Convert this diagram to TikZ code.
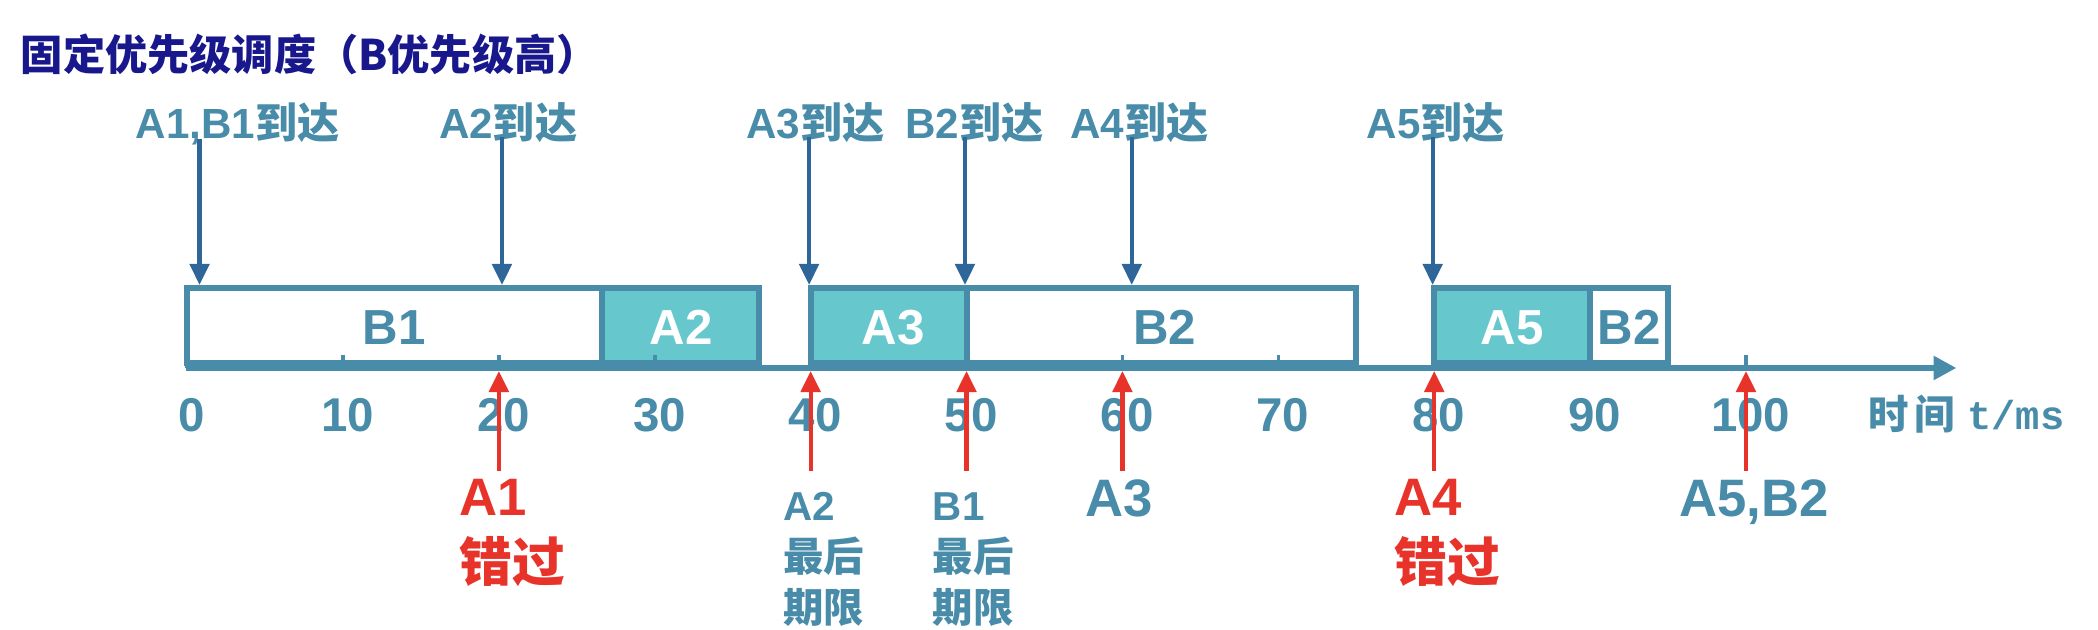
\documentclass[tikz,border=0pt]{standalone}
\usepackage{fontspec}
\setmainfont{Liberation Sans}
\newfontfamily\cjk{Noto Sans CJK SC}
\newfontfamily\mono{Liberation Mono}
\usetikzlibrary{arrows.meta}
\definecolor{lineblue}{RGB}{72,140,170}
\definecolor{arrblue}{RGB}{47,102,153}
\definecolor{taskfill}{RGB}{102,200,204}
\definecolor{missred}{RGB}{232,51,42}
\definecolor{titlenavy}{RGB}{24,24,140}
\newcommand{\zh}[1]{{\cjk #1}}

\begin{document}
\begin{tikzpicture}[x=1.559mm, y=1cm,
    every node/.style={inner sep=0pt, font=\bfseries, text=lineblue},
    taskbox/.style={draw=lineblue, line width=1.7pt},
    arrin/.style={draw=arrblue, line width=1.2pt, -{Triangle[width=5.5pt,length=6pt]}},
    missarr/.style={draw=missred, line width=1.2pt, -{Triangle[width=5.5pt,length=6pt]}},
    ticklbl/.style={anchor=base, font=\bfseries\fontsize{13.5}{16}\selectfont},
    arrlbl/.style={anchor=base, font=\bfseries\fontsize{12}{14}\selectfont},
    boxlbl/.style={anchor=base, font=\bfseries\fontsize{14}{16}\selectfont},
    bigdl/.style={align=left, font=\bfseries\fontsize{15}{18.7}\selectfont},
    smalldl/.style={align=left, font=\bfseries\fontsize{11.5}{14.5}\selectfont}]

  \useasboundingbox (-12,-2.62) rectangle (122.58,3.68);

  \node[anchor=base west, text=titlenavy, font=\bfseries\fontsize{12}{14}\selectfont] (title) at (-10.7,2.97) {\zh{固定优先级调度（B优先级高）}};

  % time line with the tasks
  \draw[taskbox, fill=white] (0,0.05) rectangle (26.6,0.8);
  \draw[taskbox, fill=taskfill] (26.6,0.05) rectangle (36.7,0.8);
  \draw[taskbox, fill=taskfill] (40,0.05) rectangle (50,0.8);
  \draw[taskbox, fill=white] (50,0.05) rectangle (75,0.8);
  \draw[taskbox, fill=taskfill] (80,0.05) rectangle (90,0.8);
  \draw[taskbox, fill=white] (90,0.05) rectangle (95,0.8);
  \draw[lineblue, line width=1.7pt, -{Triangle[width=6.5pt,length=6.5pt]}] (-0.1,0) -- (113.5,0);

  \foreach \t in {0,10,...,100}
  {
    \draw[lineblue, line width=1pt] (\t,0) -- (\t,0.13);
    \node[ticklbl] (tl\t) at (\t+0.3,-0.64) {\t};
  }
  \node[anchor=base west, font=\fontsize{11.5}{14}\selectfont] (unit) at (107.8,-0.62) {\zh{\bfseries 时\hspace{0.15em}间}\hspace{0.3em}{\mono\bfseries t/ms}};

  \node[boxlbl] (b1) at (13.3,0.23) {B1};
  \node[boxlbl, text=white] (a2) at (31.7,0.23) {A2};
  \node[boxlbl, text=white] (a3) at (45.3,0.23) {A3};
  \node[boxlbl] (b2) at (62.7,0.23) {B2};
  \node[boxlbl, text=white] (a5) at (85,0.23) {A5};
  \node[boxlbl] (b2b) at (92.5,0.23) {B2};

  % arrivals
  \foreach \n/\t/\lx/\txt in {in1/0.8/3.24/{A1,B1}, in2/20.2/20.6/A2, in3/39.9/40.3/A3,
      in4/49.9/50.5/B2, in5/60.6/61.1/A4, in6/79.9/80.1/A5}
  {
    \node[arrlbl] (\n) at (\lx,2.29) {\txt\zh{到达}};
    \coordinate (e\n) at (\t,0.83);
    \draw[arrin] ([yshift=2pt]\n.south -| e\n) -- (e\n);
  }

  % deadlines
  \node[bigdl, text=missred, anchor=north west] (m20) at (17.45,-1.11) {A1\\\zh{错过}};
  \node[smalldl, anchor=north west] (m40) at (38.2,-1.24) {A2\\\zh{最后}\\\zh{期限}};
  \node[smalldl, anchor=north west] (m50) at (47.8,-1.24) {B1\\\zh{最后}\\\zh{期限}};
  \node[bigdl, anchor=north] (m60) at (59.8,-1.11) {A3};
  \node[bigdl, text=missred, anchor=north west] (m80) at (77.4,-1.11) {A4\\\zh{错过}};
  \node[bigdl, anchor=north] (m100) at (100.5,-1.11) {A5,B2};
  \foreach \t in {20,40,50,60,80,100}
  {
    \coordinate (s\t) at (\t,-1.03);
    \coordinate (d\t) at (\t,-0.03);
    \draw[missarr] (s\t) -- (d\t);
  }

\end{tikzpicture}
\end{document}
